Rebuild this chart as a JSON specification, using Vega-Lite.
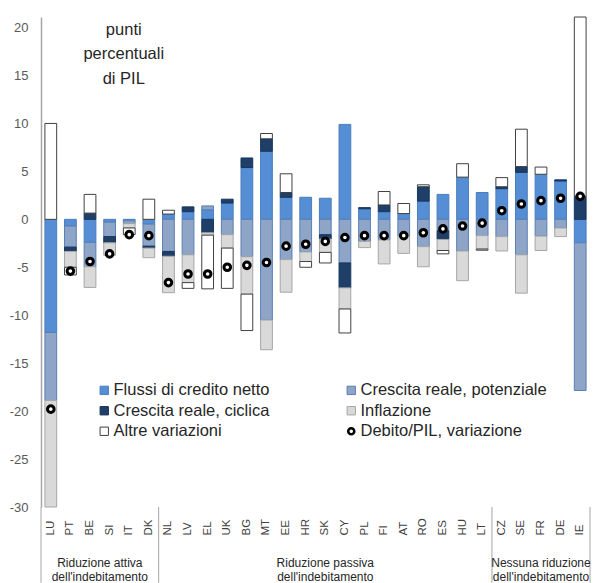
{
  "$schema": "https://vega.github.io/schema/vega-lite/v6.json",
  "width": 549,
  "height": 490,
  "autosize": {"type": "none"},
  "padding": {"left": 41, "top": 17, "right": 5, "bottom": 76},
  "background": "white",
  "config": {"view": {"stroke": null}, "font": "Liberation Sans", "axis": {"grid": false}},
  "datasets": {
    "bars": [
      {"c":"LU","s":"Flussi di credito netto","k":1,"v":-11.8},
      {"c":"LU","s":"Crescita reale, potenziale","k":2,"v":-7.1},
      {"c":"LU","s":"Inflazione","k":4,"v":-11.1},
      {"c":"LU","s":"Altre variazioni","k":5,"v":10.0},
      {"c":"PT","s":"Flussi di credito netto","k":1,"v":-0.7},
      {"c":"PT","s":"Crescita reale, potenziale","k":2,"v":-2.2},
      {"c":"PT","s":"Crescita reale, ciclica","k":3,"v":-0.45},
      {"c":"PT","s":"Inflazione","k":4,"v":-1.65},
      {"c":"PT","s":"Altre variazioni","k":5,"v":-0.8},
      {"c":"BE","s":"Flussi di credito netto","k":1,"v":-2.4},
      {"c":"BE","s":"Crescita reale, potenziale","k":2,"v":-2.55},
      {"c":"BE","s":"Crescita reale, ciclica","k":3,"v":0.65},
      {"c":"BE","s":"Inflazione","k":4,"v":-2.15},
      {"c":"BE","s":"Altre variazioni","k":5,"v":1.95},
      {"c":"SI","s":"Flussi di credito netto","k":1,"v":-0.3},
      {"c":"SI","s":"Crescita reale, potenziale","k":2,"v":-1.5},
      {"c":"SI","s":"Crescita reale, ciclica","k":3,"v":-0.65},
      {"c":"SI","s":"Inflazione","k":4,"v":-1.3},
      {"c":"IT","s":"Flussi di credito netto","k":1,"v":-0.15},
      {"c":"IT","s":"Crescita reale, potenziale","k":2,"v":-0.3},
      {"c":"IT","s":"Inflazione","k":4,"v":-0.45},
      {"c":"IT","s":"Altre variazioni","k":5,"v":-0.7},
      {"c":"DK","s":"Flussi di credito netto","k":1,"v":-0.5},
      {"c":"DK","s":"Crescita reale, potenziale","k":2,"v":-2.3},
      {"c":"DK","s":"Crescita reale, ciclica","k":3,"v":-0.2},
      {"c":"DK","s":"Inflazione","k":4,"v":-1.0},
      {"c":"DK","s":"Altre variazioni","k":5,"v":2.1},
      {"c":"NL","s":"Flussi di credito netto","k":1,"v":0.55},
      {"c":"NL","s":"Crescita reale, potenziale","k":2,"v":-3.35},
      {"c":"NL","s":"Crescita reale, ciclica","k":3,"v":-0.5},
      {"c":"NL","s":"Inflazione","k":4,"v":-3.8},
      {"c":"NL","s":"Altre variazioni","k":5,"v":0.4},
      {"c":"LV","s":"Flussi di credito netto","k":1,"v":0.8},
      {"c":"LV","s":"Crescita reale, potenziale","k":2,"v":-3.7},
      {"c":"LV","s":"Crescita reale, ciclica","k":3,"v":0.5},
      {"c":"LV","s":"Inflazione","k":4,"v":-2.9},
      {"c":"LV","s":"Altre variazioni","k":5,"v":-0.6},
      {"c":"EL","s":"Flussi di credito netto","k":1,"v":1.0},
      {"c":"EL","s":"Crescita reale, potenziale","k":2,"v":0.4},
      {"c":"EL","s":"Crescita reale, ciclica","k":3,"v":-1.4},
      {"c":"EL","s":"Inflazione","k":4,"v":-0.25},
      {"c":"EL","s":"Altre variazioni","k":5,"v":-5.6},
      {"c":"UK","s":"Flussi di credito netto","k":1,"v":1.7},
      {"c":"UK","s":"Crescita reale, potenziale","k":2,"v":-1.6},
      {"c":"UK","s":"Crescita reale, ciclica","k":3,"v":0.4},
      {"c":"UK","s":"Inflazione","k":4,"v":-1.4},
      {"c":"UK","s":"Altre variazioni","k":5,"v":-4.2},
      {"c":"BG","s":"Flussi di credito netto","k":1,"v":5.4},
      {"c":"BG","s":"Crescita reale, potenziale","k":2,"v":-3.9},
      {"c":"BG","s":"Crescita reale, ciclica","k":3,"v":1.0},
      {"c":"BG","s":"Inflazione","k":4,"v":-3.9},
      {"c":"BG","s":"Altre variazioni","k":5,"v":-3.8},
      {"c":"MT","s":"Flussi di credito netto","k":1,"v":7.1},
      {"c":"MT","s":"Crescita reale, potenziale","k":2,"v":-10.5},
      {"c":"MT","s":"Crescita reale, ciclica","k":3,"v":1.3},
      {"c":"MT","s":"Inflazione","k":4,"v":-3.1},
      {"c":"MT","s":"Altre variazioni","k":5,"v":0.55},
      {"c":"EE","s":"Flussi di credito netto","k":1,"v":2.3},
      {"c":"EE","s":"Crescita reale, potenziale","k":2,"v":-4.2},
      {"c":"EE","s":"Crescita reale, ciclica","k":3,"v":0.5},
      {"c":"EE","s":"Inflazione","k":4,"v":-3.4},
      {"c":"EE","s":"Altre variazioni","k":5,"v":1.95},
      {"c":"HR","s":"Flussi di credito netto","k":1,"v":2.3},
      {"c":"HR","s":"Crescita reale, potenziale","k":2,"v":-3.4},
      {"c":"HR","s":"Inflazione","k":4,"v":-1.0},
      {"c":"HR","s":"Altre variazioni","k":5,"v":-0.6},
      {"c":"SK","s":"Flussi di credito netto","k":1,"v":2.2},
      {"c":"SK","s":"Crescita reale, potenziale","k":2,"v":-1.6},
      {"c":"SK","s":"Crescita reale, ciclica","k":3,"v":-0.45},
      {"c":"SK","s":"Inflazione","k":4,"v":-1.4},
      {"c":"SK","s":"Altre variazioni","k":5,"v":-1.1},
      {"c":"CY","s":"Flussi di credito netto","k":1,"v":9.9},
      {"c":"CY","s":"Crescita reale, potenziale","k":2,"v":-4.55},
      {"c":"CY","s":"Crescita reale, ciclica","k":3,"v":-2.6},
      {"c":"CY","s":"Inflazione","k":4,"v":-2.2},
      {"c":"CY","s":"Altre variazioni","k":5,"v":-2.5},
      {"c":"PL","s":"Flussi di credito netto","k":1,"v":1.1},
      {"c":"PL","s":"Crescita reale, potenziale","k":2,"v":-2.3},
      {"c":"PL","s":"Crescita reale, ciclica","k":3,"v":0.12},
      {"c":"PL","s":"Inflazione","k":4,"v":-0.65},
      {"c":"FI","s":"Flussi di credito netto","k":1,"v":0.8},
      {"c":"FI","s":"Crescita reale, potenziale","k":2,"v":-2.15},
      {"c":"FI","s":"Crescita reale, ciclica","k":3,"v":0.7},
      {"c":"FI","s":"Inflazione","k":4,"v":-2.5},
      {"c":"FI","s":"Altre variazioni","k":5,"v":1.4},
      {"c":"AT","s":"Flussi di credito netto","k":1,"v":0.6},
      {"c":"AT","s":"Crescita reale, potenziale","k":2,"v":-1.75},
      {"c":"AT","s":"Inflazione","k":4,"v":-1.8},
      {"c":"AT","s":"Altre variazioni","k":5,"v":1.05},
      {"c":"RO","s":"Flussi di credito netto","k":1,"v":1.9},
      {"c":"RO","s":"Crescita reale, potenziale","k":2,"v":-2.85},
      {"c":"RO","s":"Crescita reale, ciclica","k":3,"v":1.5},
      {"c":"RO","s":"Inflazione","k":4,"v":-2.1},
      {"c":"RO","s":"Altre variazioni","k":5,"v":0.2},
      {"c":"ES","s":"Flussi di credito netto","k":1,"v":2.6},
      {"c":"ES","s":"Crescita reale, potenziale","k":2,"v":-1.2},
      {"c":"ES","s":"Crescita reale, ciclica","k":3,"v":-0.9},
      {"c":"ES","s":"Inflazione","k":4,"v":-1.15},
      {"c":"ES","s":"Altre variazioni","k":5,"v":-0.35},
      {"c":"HU","s":"Flussi di credito netto","k":1,"v":4.4},
      {"c":"HU","s":"Crescita reale, potenziale","k":2,"v":-3.3},
      {"c":"HU","s":"Inflazione","k":4,"v":-3.1},
      {"c":"HU","s":"Altre variazioni","k":5,"v":1.4},
      {"c":"LT","s":"Flussi di credito netto","k":1,"v":2.8},
      {"c":"LT","s":"Crescita reale, potenziale","k":2,"v":-1.7},
      {"c":"LT","s":"Inflazione","k":4,"v":-1.4},
      {"c":"LT","s":"Altre variazioni","k":5,"v":-0.12},
      {"c":"CZ","s":"Flussi di credito netto","k":1,"v":3.2},
      {"c":"CZ","s":"Crescita reale, potenziale","k":2,"v":-1.8},
      {"c":"CZ","s":"Crescita reale, ciclica","k":3,"v":0.2},
      {"c":"CZ","s":"Inflazione","k":4,"v":-1.5},
      {"c":"CZ","s":"Altre variazioni","k":5,"v":0.95},
      {"c":"SE","s":"Flussi di credito netto","k":1,"v":4.9},
      {"c":"SE","s":"Crescita reale, potenziale","k":2,"v":-3.7},
      {"c":"SE","s":"Crescita reale, ciclica","k":3,"v":0.6},
      {"c":"SE","s":"Inflazione","k":4,"v":-4.0},
      {"c":"SE","s":"Altre variazioni","k":5,"v":3.9},
      {"c":"FR","s":"Flussi di credito netto","k":1,"v":4.7},
      {"c":"FR","s":"Crescita reale, potenziale","k":2,"v":-1.75},
      {"c":"FR","s":"Inflazione","k":4,"v":-1.5},
      {"c":"FR","s":"Altre variazioni","k":5,"v":0.75},
      {"c":"DE","s":"Flussi di credito netto","k":1,"v":4.0},
      {"c":"DE","s":"Crescita reale, potenziale","k":2,"v":-0.9},
      {"c":"DE","s":"Crescita reale, ciclica","k":3,"v":0.12},
      {"c":"DE","s":"Inflazione","k":4,"v":-0.9},
      {"c":"IE","s":"Flussi di credito netto","k":1,"v":-2.45},
      {"c":"IE","s":"Crescita reale, potenziale","k":2,"v":-15.4},
      {"c":"IE","s":"Crescita reale, ciclica","k":3,"v":2.4},
      {"c":"IE","s":"Altre variazioni","k":5,"v":18.7}
    ],
    "debt": [
      {"c":"LU","s":"Debito/PIL, variazione","d":-19.8},
      {"c":"PT","s":"Debito/PIL, variazione","d":-5.4},
      {"c":"BE","s":"Debito/PIL, variazione","d":-4.4},
      {"c":"SI","s":"Debito/PIL, variazione","d":-3.6},
      {"c":"IT","s":"Debito/PIL, variazione","d":-1.6},
      {"c":"DK","s":"Debito/PIL, variazione","d":-1.7},
      {"c":"NL","s":"Debito/PIL, variazione","d":-6.6},
      {"c":"LV","s":"Debito/PIL, variazione","d":-5.7},
      {"c":"EL","s":"Debito/PIL, variazione","d":-5.7},
      {"c":"UK","s":"Debito/PIL, variazione","d":-5.0},
      {"c":"BG","s":"Debito/PIL, variazione","d":-4.8},
      {"c":"MT","s":"Debito/PIL, variazione","d":-4.5},
      {"c":"EE","s":"Debito/PIL, variazione","d":-2.8},
      {"c":"HR","s":"Debito/PIL, variazione","d":-2.6},
      {"c":"SK","s":"Debito/PIL, variazione","d":-2.3},
      {"c":"CY","s":"Debito/PIL, variazione","d":-1.9},
      {"c":"PL","s":"Debito/PIL, variazione","d":-1.7},
      {"c":"FI","s":"Debito/PIL, variazione","d":-1.7},
      {"c":"AT","s":"Debito/PIL, variazione","d":-1.7},
      {"c":"RO","s":"Debito/PIL, variazione","d":-1.4},
      {"c":"ES","s":"Debito/PIL, variazione","d":-1.0},
      {"c":"HU","s":"Debito/PIL, variazione","d":-0.7},
      {"c":"LT","s":"Debito/PIL, variazione","d":-0.4},
      {"c":"CZ","s":"Debito/PIL, variazione","d":0.9},
      {"c":"SE","s":"Debito/PIL, variazione","d":1.6},
      {"c":"FR","s":"Debito/PIL, variazione","d":1.95},
      {"c":"DE","s":"Debito/PIL, variazione","d":2.2},
      {"c":"IE","s":"Debito/PIL, variazione","d":2.4}
    ]
  },
  "layer": [
    {
      "data": {"name": "bars"},
      "mark": {"type": "bar", "width": {"band": 0.6}, "strokeWidth": 1},
      "encoding": {
        "x": {
          "field": "c", "type": "nominal", "sort": null,
          "scale": {"domain": ["LU","PT","BE","SI","IT","DK","NL","LV","EL","UK","BG","MT","EE","HR","SK","CY","PL","FI","AT","RO","ES","HU","LT","CZ","SE","FR","DE","IE"], "paddingInner": 0, "paddingOuter": 0},
          "axis": {"title": null, "orient": "bottom", "domain": false, "ticks": false, "tickSize": 0, "labelAngle": -90, "labelAlign": "left", "labelBaseline": "middle", "labelPadding": 28, "labelFontSize": 11.5, "labelColor": "#404040", "labelFont": "Liberation Sans", "labelOverlap": false}
        },
        "y": {
          "field": "v", "type": "quantitative", "stack": "zero",
          "scale": {"domain": [-30, 21.1], "nice": false, "zero": false},
          "axis": {"title": null, "values": [-30,-25,-20,-15,-10,-5,0,5,10,15,20], "labelExpr": "'' + datum.value", "ticks": false, "tickSize": 0, "labelPadding": 13, "labelFontSize": 13, "labelColor": "#595959", "labelFont": "Liberation Sans", "domainColor": "#a6a6a6", "domainWidth": 1.5}
        },
        "fill": {
          "field": "s", "type": "nominal",
          "scale": {"domain": ["Flussi di credito netto","Crescita reale, ciclica","Altre variazioni","Crescita reale, potenziale","Inflazione","Debito/PIL, variazione"], "range": ["#558ed5","#1f3f68","#ffffff","#8fa5c8","#d9d9d9","#ffffff"]},
          "legend": {
            "title": null, "orient": "none", "legendX": 55, "legendY": 365, "columns": 2, "columnPadding": 73, "rowPadding": 3.5,
            "labelFont": "Liberation Sans", "labelFontSize": 16.5, "labelColor": "#262626", "labelOffset": 1, "labelLimit": 300,
            "symbolType": "square", "symbolSize": 70, "symbolStrokeWidth": 1,
            "encode": {"symbols": {"update": {
              "shape": {"signal": "datum.value === 'Debito/PIL, variazione' ? 'circle' : 'square'"},
              "size": {"signal": "datum.value === 'Debito/PIL, variazione' ? 36 : 70"},
              "strokeWidth": {"signal": "datum.value === 'Debito/PIL, variazione' ? 2.6 : 1"},
              "stroke": {"signal": "scale('stroke', datum.value)"},
              "fill": {"signal": "scale('fill', datum.value)"},
              "opacity": {"value": 1}
            }}}
          }
        },
        "stroke": {
          "field": "s", "type": "nominal",
          "scale": {"domain": ["Flussi di credito netto","Crescita reale, ciclica","Altre variazioni","Crescita reale, potenziale","Inflazione","Debito/PIL, variazione"], "range": ["#4a7ebb","#17375e","#404040","#5b7fb3","#a6a6a6","#000000"]},
          "legend": null
        },
        "order": {"field": "k", "type": "quantitative"}
      }
    },
    {
      "mark": {"type": "rule", "color": "#a6a6a6", "strokeWidth": 1.5},
      "encoding": {"y": {"datum": 0}}
    },
    {
      "data": {"name": "debt"},
      "mark": {"type": "circle", "size": 44, "strokeWidth": 3, "opacity": 1},
      "encoding": {
        "x": {"field": "c", "type": "nominal"},
        "y": {"field": "d", "type": "quantitative"},
        "fill": {"field": "s", "type": "nominal"},
        "stroke": {"field": "s", "type": "nominal", "legend": null}
      }
    },
    {
      "data": {"values": [{"c": "LU"}, {"c": "NL"}, {"c": "CZ"}]},
      "mark": {"type": "rule", "color": "#a6a6a6", "strokeWidth": 1},
      "encoding": {"x": {"field": "c", "type": "nominal", "bandPosition": 0}, "y": {"datum": -30}, "y2": {"datum": -37.9}}
    },
    {
      "data": {"values": [{"c": "IE"}]},
      "mark": {"type": "rule", "color": "#a6a6a6", "strokeWidth": 1},
      "encoding": {"x": {"field": "c", "type": "nominal", "bandPosition": 1}, "y": {"datum": -30}, "y2": {"datum": -37.9}}
    },
    {
      "data": {"values": [{"c": "IT", "t": "punti\npercentuali\ndi PIL"}]},
      "mark": {"type": "text", "lineBreak": "\n", "fontSize": 16.5, "lineHeight": 24.5, "align": "center", "baseline": "top", "color": "#262626", "font": "Liberation Sans"},
      "encoding": {"x": {"field": "c", "type": "nominal", "bandPosition": 0.22}, "y": {"datum": 20.6}, "text": {"field": "t"}}
    },
    {
      "data": {"values": [{"c": "SI", "t": "Riduzione attiva\ndell'indebitamento"}]},
      "mark": {"type": "text", "lineBreak": "\n", "fontSize": 12, "lineHeight": 14.5, "align": "center", "baseline": "top", "color": "#262626", "font": "Liberation Sans"},
      "encoding": {"x": {"field": "c", "type": "nominal", "bandPosition": 0}, "y": {"datum": -35.3}, "text": {"field": "t"}}
    },
    {
      "data": {"values": [{"c": "SK", "t": "Riduzione passiva\ndell'indebitamento"}, {"c": "FR", "t": "Nessuna riduzione\ndell'indebitamento"}]},
      "mark": {"type": "text", "lineBreak": "\n", "fontSize": 12, "lineHeight": 14.5, "align": "center", "baseline": "top", "color": "#262626", "font": "Liberation Sans"},
      "encoding": {"x": {"field": "c", "type": "nominal", "bandPosition": 0.5}, "y": {"datum": -35.3}, "text": {"field": "t"}}
    }
  ]
}
